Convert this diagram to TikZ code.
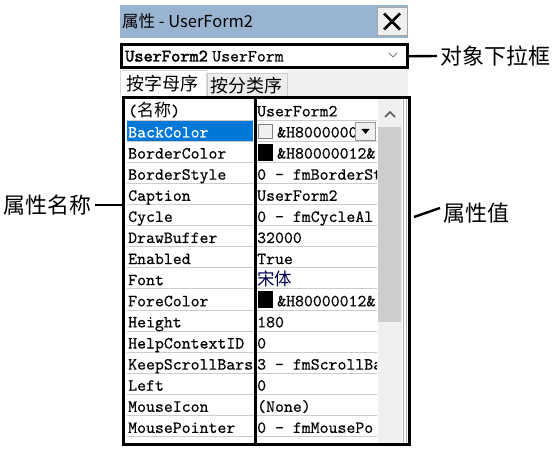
\documentclass[tikz,border=0pt]{standalone}
\usepackage{fontspec}
\newfontfamily\cjk{Noto Sans CJK SC}
\newfontfamily\gridfont{lmmono10-regular.otf}[FakeBold=0.35]
\newfontfamily\gridbold{lmmono10-regular.otf}[FakeBold=2.2]
\usetikzlibrary{positioning}
\definecolor{titleblue}{HTML}{99B4D1}
\definecolor{winbg}{HTML}{F0F0F0}
\definecolor{selblue}{HTML}{0078D7}
\definecolor{thumbgray}{HTML}{CDCDCD}
\tikzset{
  cell/.style={anchor=base west, inner sep=0pt, font=\fontsize{17}{20}\selectfont\gridfont},
  cjkcell/.style={anchor=base west, inner sep=0pt, font=\fontsize{17.5}{20}\selectfont\cjk},
  callout/.style={inner sep=3pt, font=\fontsize{22}{24}\selectfont\cjk},
  frame/.style={draw, line width=3pt, outer sep=0pt, inner sep=0pt},
  leader/.style={line width=2.4pt},
  gridline/.style={draw=black!20, line width=0.8pt}
}
\begin{document}
\begin{tikzpicture}[x=1pt,y=-1pt]
\useasboundingbox (0,0) rectangle (558,452);
% window
\fill[titleblue] (120,5) rectangle (408,38);
\node[anchor=west, inner sep=0pt, font=\fontsize{16.5}{18}\selectfont\cjk] (title) at (122,21) {属性 - UserForm2};
\node[draw=black!35, fill=winbg, minimum width=30pt, minimum height=28pt, inner sep=0pt, outer sep=0pt] (close) at (392,21.5) {};
\draw[line width=2.8pt] ([shift={(-8,-8)}]close.center) -- ([shift={(8,8)}]close.center);
\draw[line width=2.8pt] ([shift={(-8,8)}]close.center) -- ([shift={(8,-8)}]close.center);

\node[frame, fill=white, minimum width=286pt, minimum height=23.5pt, anchor=north west] (objbox) at (121.5,44.5) {};
\node[cell, font=\fontsize{17.5}{20}\selectfont\gridbold] (objname) at (125,61.5) {UserForm2};
\node[cell, right=4pt of objname.base east, anchor=base west] (objtype) {UserForm};
\draw[black!50, line width=0.8pt] (389,53) -- (393,57) -- (397,53);

% tabs
\fill[winbg] (287,70) rectangle (408,97);
\node[draw=black!15, fill=white, minimum width=86pt, minimum height=27pt, anchor=north west, inner sep=0pt, outer sep=0pt] (tabA) at (120,70) {};
\node[draw=black!20, fill=black!7, minimum width=80pt, minimum height=24pt, anchor=north west, inner sep=0pt, outer sep=0pt] (tabB) at (207,73) {};
\node[anchor=west, inner sep=0pt, font=\fontsize{18}{20}\selectfont\cjk] at (126,84) {按字母序};
\node[anchor=west, inner sep=0pt, font=\fontsize{18}{20}\selectfont\cjk] at (210,86) {按分类序};

% grid
\fill[white] (123,97) rectangle (410,445);
\foreach \i in {0,...,15} \draw[gridline] (127,{120+21.1*\i}) -- (377,{120+21.1*\i});
\fill[selblue] (127,121) rectangle (253,141);

\node[cell] (n0) at (128,116.4) {(\cjk 名称\gridfont)};
\node[cell, text=white] (n1) at (128,137.5) {BackColor};
\node[cell] (n2) at (128,158.6) {BorderColor};
\node[cell] (n3) at (128,179.7) {BorderStyle};
\node[cell] (n4) at (128,200.8) {Caption};
\node[cell] (n5) at (128,221.9) {Cycle};
\node[cell] (n6) at (128,243.0) {DrawBuffer};
\node[cell] (n7) at (128,264.1) {Enabled};
\node[cell] (n8) at (128,285.2) {Font};
\node[cell] (n9) at (128,306.3) {ForeColor};
\node[cell] (n10) at (128,327.4) {Height};
\node[cell] (n11) at (128,348.5) {HelpContextID};
\node[cell] (n12) at (128,369.6) {KeepScrollBars};
\node[cell] (n13) at (128,390.7) {Left};
\node[cell] (n14) at (128,411.8) {MouseIcon};
\node[cell] (n15) at (128,432.9) {MousePointer};

\begin{scope}
\clip (256,98) rectangle (377,444);
\node[cell] (v0) at (257,116.4) {UserForm2};
\node[draw=black!50, fill=winbg, minimum size=14pt, inner sep=0pt] (sw1) at (265.5,131) {};
\node[cell] (v1) at (277,137.5) {\&H8000000C};
\fill (258,144) rectangle (273,161);
\node[cell] (v2) at (277,158.6) {\&H80000012\&};
\node[cell] (v3) at (257,179.7) {0 - fmBorderSt};
\node[cell] (v4) at (257,200.8) {UserForm2};
\node[cell] (v5) at (257,221.9) {0 - fmCycleAl};
\node[cell] (v6) at (257,243.0) {32000};
\node[cell] (v7) at (257,264.1) {True};
\node[cjkcell, text=black!70!blue] (v8) at (257,285.2) {宋体};
\fill (258,291) rectangle (273,308);
\node[cell] (v9) at (277,306.3) {\&H80000012\&};
\node[cell] (v10) at (257,327.4) {180};
\node[cell] (v11) at (257,348.5) {0};
\node[cell] (v12) at (257,369.6) {3 - fmScrollBa};
\node[cell] (v13) at (257,390.7) {0};
\node[cell] (v14) at (257,411.8) {(None)};
\node[cell] (v15) at (257,432.9) {0 - fmMousePo};
\end{scope}
\node[draw=black!40, fill=winbg, minimum width=20pt, minimum height=18pt, inner sep=0pt] (drop) at (365.5,131) {};
\fill ([shift={(-4,-2)}]drop.center) -- ([shift={(4,-2)}]drop.center) -- ([shift={(0,3)}]drop.center) -- cycle;

% scrollbar
\fill[winbg] (378,98) rectangle (402,443);
\fill[thumbgray] (378,127) rectangle (401,322);
\draw[black!65, line width=1.6pt] (385,117) -- (390,112) -- (395,117);
\draw[black!30] (403.5,98) -- (403.5,444);
\draw[black!30] (406.5,98) -- (406.5,444);

\node[frame, minimum width=132pt, minimum height=347pt, anchor=north west] (namebox) at (123.5,97.5) {};
\node[frame, minimum width=154pt, minimum height=347pt, anchor=north west] (valbox) at (255.5,97.5) {};

% callouts
\node[callout, anchor=west] (lbobj) at (437,56) {对象下拉框};
\node[callout, anchor=west] (lbval) at (440,213) {属性值};
\node[callout, anchor=east] (lbname) at (95,205) {属性名称};
\coordinate (valtip) at (414,217);
\draw[leader] (objbox.east) -- (lbobj.west);
\draw[leader] (valtip) -- ([yshift=5pt]lbval.west);
\draw[leader] (lbname.east) -- (namebox.west |- lbname.east);
\end{tikzpicture}
\end{document}
